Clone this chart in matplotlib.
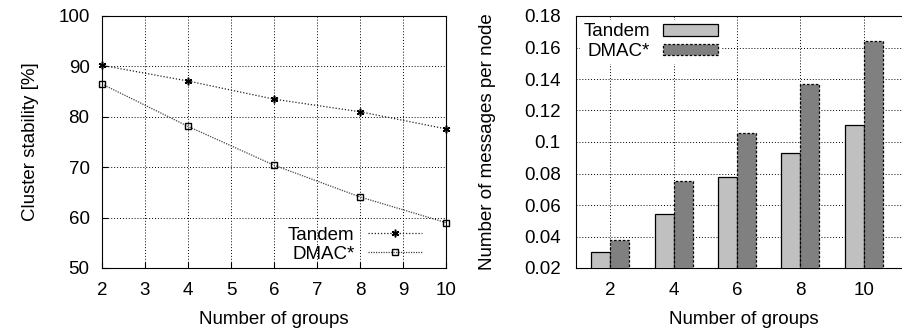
import numpy as np
import matplotlib
matplotlib.use('Agg')
import matplotlib.pyplot as plt

plt.rcParams['font.family'] = ['Liberation Sans', 'DejaVu Sans']
plt.rcParams['font.size'] = 13.5

groups = [2, 4, 6, 8, 10]
stab_tandem = [90.2, 87.1, 83.5, 81.0, 77.6]
stab_dmac = [86.5, 78.1, 70.4, 64.1, 59.0]
msg_tandem = [0.030, 0.054, 0.078, 0.093, 0.111]
msg_dmac = [0.038, 0.075, 0.106, 0.137, 0.164]

W, H = 902, 331
fig = plt.figure(figsize=(W / 100, H / 100), dpi=100)

def box(l, t, r, b):
    return [l / W, 1 - b / H, (r - l) / W, (b - t) / H]

grid_kw = dict(color='black', linestyle=(0, (1, 2)), linewidth=0.7)

# left: cluster stability
ax1 = fig.add_axes(box(102, 16, 446, 268))
ax1.plot(groups, stab_tandem, color='#222222', linestyle=(0, (1, 1.5)), linewidth=0.9,
         marker=(6, 2, 0), markersize=5.5, markeredgewidth=1.1, markeredgecolor='black',
         label='Tandem', clip_on=False)
ax1.plot(groups, stab_dmac, color='#444444', linestyle=(0, (1, 1)), linewidth=0.9,
         marker='s', markersize=4.5, markerfacecolor='none', markeredgecolor='black',
         label='DMAC*', clip_on=False)
ax1.set_xlim(2, 10)
ax1.set_ylim(50, 100)
ax1.set_xticks(range(2, 11))
ax1.set_yticks(range(50, 101, 10))
ax1.grid(True, **grid_kw)
ax1.tick_params(direction='in', length=4)
ax1.tick_params(axis='y', pad=9)
ax1.tick_params(axis='x', pad=10)
ax1.set_xlabel('Number of groups', labelpad=9)
ax1.set_ylabel('Cluster stability [%]', labelpad=14)
ax1.legend(loc='lower right', frameon=False, markerfirst=False, handlelength=2.9,
           handletextpad=0.7, labelspacing=0.1, borderaxespad=0, borderpad=0,
           bbox_to_anchor=(0.93, 0.02))

# right: messages per node
ax2 = fig.add_axes(box(576, 16, 912, 268))
x = np.arange(len(groups))
w = 0.3
ax2.bar(x - w / 2, msg_tandem, w, color='#c0c0c0', edgecolor='black', linewidth=0.9,
        label='Tandem', zorder=3)
ax2.bar(x + w / 2, msg_dmac, w, color='#808080', edgecolor='black', linewidth=0.9,
        linestyle=(0, (2, 1.5)), label='DMAC*', zorder=3)
ax2.set_xlim(-0.54, 4.76)
ax2.set_ylim(0.02, 0.18)
ax2.set_xticks(x)
ax2.set_xticklabels([str(g) for g in groups])
ax2.set_yticks(np.arange(0.02, 0.181, 0.02))
ax2.set_yticklabels(['0.02', '0.04', '0.06', '0.08', '0.1', '0.12', '0.14', '0.16', '0.18'])
ax2.grid(True, zorder=0, **grid_kw)
ax2.set_axisbelow(True)
ax2.tick_params(direction='in', length=0)
ax2.tick_params(axis='y', pad=11)
ax2.tick_params(axis='x', pad=10)
ax2.set_xlabel('Number of groups', labelpad=9)
ax2.set_ylabel('Number of messages per node', labelpad=20)
ax2.legend(loc='upper left', frameon=True, facecolor='white', edgecolor='none',
           framealpha=1, fancybox=False, markerfirst=False, handlelength=2.9,
           handleheight=0.55, handletextpad=0.7, labelspacing=0.15,
           borderaxespad=0.2, borderpad=0.2)

fig.savefig('out.png', dpi=100)
